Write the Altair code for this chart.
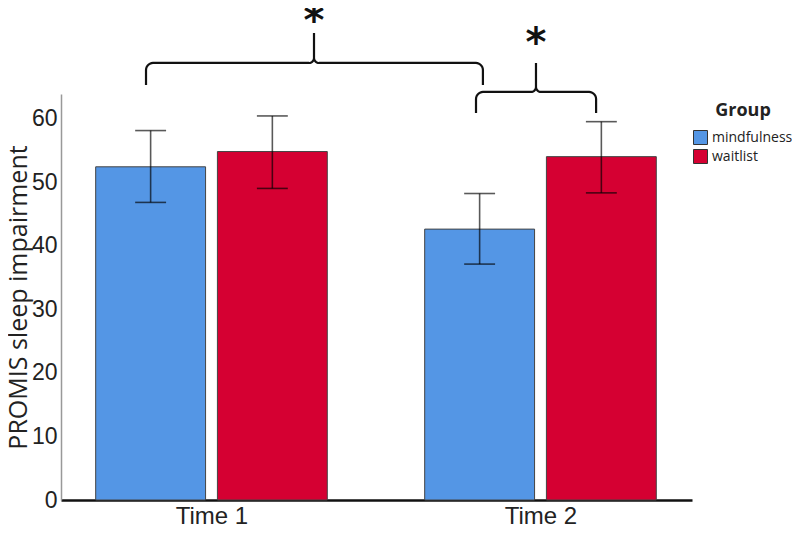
import json
import altair as alt
import numpy as np
import pandas as pd

# ---------------- data ----------------
times = ["Time 1", "Time 2"]
groups = ["mindfulness", "waitlist"]
mind_mean = [52.4, 42.6]
mind_lo = [46.8, 37.1]
mind_hi = [58.1, 48.2]
wait_mean = [54.8, 54.0]
wait_lo = [49.0, 48.3]
wait_hi = [60.4, 59.5]

# significance annotations (data units)
brace_left = [-0.199, 0.804]
brace_right = [0.825, 1.169]
brace_tip_x = [0.3116, 0.9863]
brace_level = [68.73, 64.17]
brace_end = [65.27, 60.87]
brace_top = [73.45, 68.73]
star_label = ["*", "*"]
star_y = [75.65, 72.19]

# ---------------- layout ----------------
W, H = 631, 406
X_DOM = [-0.4574, 1.4605]
Y_DOM = [0, 63.85]
PX_X = W / (X_DOM[1] - X_DOM[0])
PX_Y = H / (Y_DOM[1] - Y_DOM[0])
GROUP_OFF = 0.185
BAR_HALF = 0.167
CAP_HALF = 0.047
BLUE, RED = "#5496E5", "#D50032"

rows = []
for ti, t in enumerate(times):
    for g, m, lo, hi in [("mindfulness", mind_mean[ti], mind_lo[ti], mind_hi[ti]),
                         ("waitlist", wait_mean[ti], wait_lo[ti], wait_hi[ti])]:
        c = ti + (-GROUP_OFF if g == "mindfulness" else GROUP_OFF)
        rows.append(dict(time=t, group=g, mean=m, lo=lo, hi=hi, xc=c,
                         x0=c - BAR_HALF, x1=c + BAR_HALF,
                         c0=c - CAP_HALF, c1=c + CAP_HALF, base=0))
df = pd.DataFrame(rows)


def brace(x0, x1, xc, yh, yend, ytop, r_end=7, r_tip=5):
    ex, ey = r_end / PX_X, r_end / PX_Y
    tx, ty = r_tip / PX_X, r_tip / PX_Y
    t = np.linspace(0, np.pi / 2, 8)
    pts = [(x0, yend)]
    cx, cy = x0 + ex, yh - ey
    pts += list(zip(cx - ex * np.cos(t), cy + ey * np.sin(t)))
    cx, cy = xc - tx, yh + ty
    pts += list(zip(cx + tx * np.sin(t), cy - ty * np.cos(t)))
    pts += [(xc, ytop)]
    cx, cy = xc + tx, yh + ty
    pts += list(zip(cx - tx * np.cos(t), cy - ty * np.sin(t)))
    cx, cy = x1 - ex, yh - ey
    pts += list(zip(cx + ex * np.sin(t), cy + ey * np.cos(t)))
    pts += [(x1, yend)]
    return pts


brows = []
for b in range(len(brace_left)):
    for i, (px, py) in enumerate(brace(brace_left[b], brace_right[b], brace_tip_x[b],
                                       brace_level[b], brace_end[b], brace_top[b])):
        brows.append(dict(brace=b, i=i, bx=float(px), by=float(py)))
bdf = pd.DataFrame(brows)
sdf = pd.DataFrame(dict(sx=brace_tip_x, sy=star_y, s=star_label))

TICK_FONT = "Liberation Sans, Arial"
xscale = alt.Scale(domain=X_DOM, nice=False, zero=False)
yscale = alt.Scale(domain=Y_DOM, nice=False, zero=True)

xaxis = alt.Axis(values=[0, 1], labelExpr=json.dumps(times) + "[datum.value]",
                 title=None, ticks=False, grid=False, domainColor="#111",
                 domainWidth=2.5, labelFont=TICK_FONT, labelFontSize=24,
                 labelColor="#222", labelPadding=4, labelFlush=False)
yaxis = alt.Axis(values=[0, 10, 20, 30, 40, 50, 60], title="PROMIS sleep impairment",
                 ticks=False, grid=False, domainColor="#999", domainWidth=1.5,
                 labelFont=TICK_FONT, labelFontSize=23, labelColor="#222",
                 labelPadding=4, titleFont="Open Sans", titleFontSize=25,
                 titleFontWeight="normal", titleColor="#222", titlePadding=0)


def X(f):
    return alt.X(f, scale=xscale, axis=xaxis, title=None)


def Y(f):
    return alt.Y(f, scale=yscale, axis=yaxis, title="PROMIS sleep impairment")


bars = alt.Chart(df).mark_bar(stroke="#444", strokeWidth=1).encode(
    x=X("x0:Q"),
    x2="x1:Q",
    y=Y("mean:Q"),
    y2="base:Q",
    color=alt.Color("group:N", scale=alt.Scale(domain=groups, range=[BLUE, RED]),
                    legend=alt.Legend(title="Group", orient="none", legendX=632, legendY=8,
                                      titleFont="Open Sans", titleFontSize=18,
                                      titleFontWeight="bold", titleColor="#222",
                                      titleAnchor="middle",
                                      labelFont="Open Sans", labelFontSize=14,
                                      labelColor="#222", symbolType="square",
                                      symbolSize=196, symbolStrokeColor="#333",
                                      symbolStrokeWidth=1, symbolOpacity=1,
                                      rowPadding=0, labelOffset=4, titlePadding=10)),
)

rule_style = dict(color="black", opacity=0.65, strokeWidth=1.6)
err = alt.Chart(df).mark_rule(**rule_style).encode(x=X("xc:Q"), y=Y("lo:Q"), y2="hi:Q")
cap_hi = alt.Chart(df).mark_rule(**rule_style).encode(x=X("c0:Q"), x2="c1:Q", y=Y("hi:Q"))
cap_lo = alt.Chart(df).mark_rule(**rule_style).encode(x=X("c0:Q"), x2="c1:Q", y=Y("lo:Q"))

braces = alt.Chart(bdf).mark_line(color="#111", strokeWidth=2.2).encode(
    x=X("bx:Q"), y=Y("by:Q"), detail="brace:N", order="i:Q",
)

stars = alt.Chart(sdf).mark_text(font="DejaVu Sans", fontSize=40, fontWeight="bold",
                                 color="#111", baseline="alphabetic", dy=15).encode(
    x=X("sx:Q"), y=Y("sy:Q"), text="s:N",
)

chart = alt.layer(bars, err, cap_hi, cap_lo, braces, stars).properties(
    width=W, height=H,
    padding={"left": 53, "top": 86, "right": 100, "bottom": 27},
    autosize=alt.AutoSizeParams(type="none"),
).configure_view(stroke=None)

chart.save("out.html", embed_options={"renderer": "svg", "actions": False})
